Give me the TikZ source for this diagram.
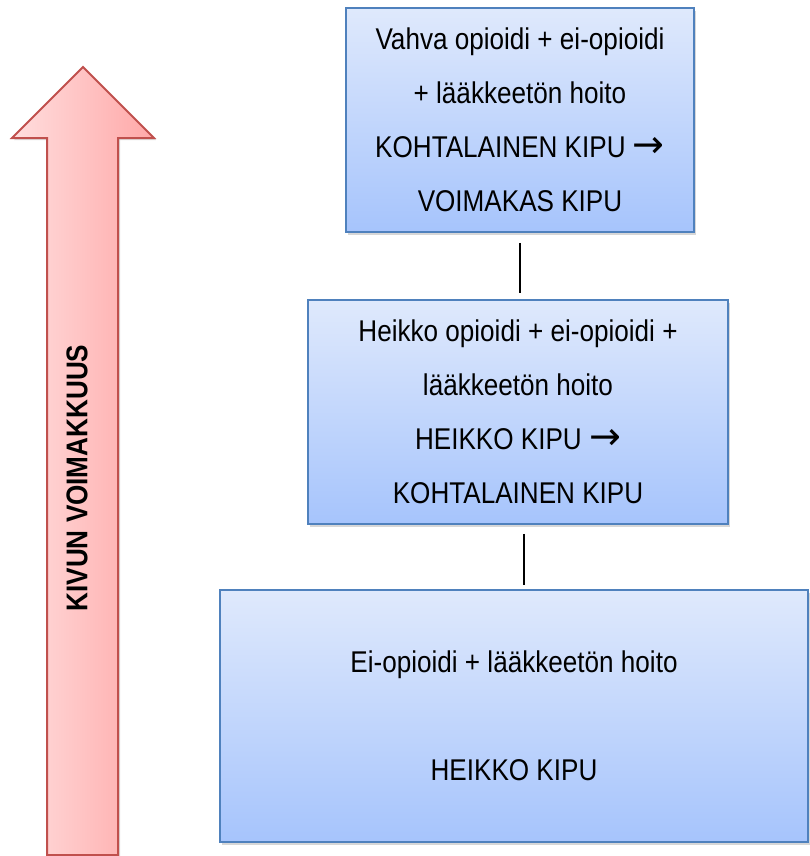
\documentclass[tikz,border=0pt]{standalone}
\usepackage{fontspec}
\setmainfont[FakeStretch=0.87]{Liberation Sans}
\newfontfamily\arrowfont{DejaVu Sans}
\usetikzlibrary{shadows}
\definecolor{boxtop}{RGB}{223,233,252}
\definecolor{boxbottom}{RGB}{166,196,252}
\definecolor{boxline}{RGB}{79,129,189}
\definecolor{painlight}{RGB}{255,222,222}
\definecolor{paindark}{RGB}{255,168,168}
\definecolor{painline}{RGB}{192,80,77}
\newcommand{\nuoli}{{\arrowfont\fontsize{38}{54}\selectfont →}}

\begin{document}
\begin{tikzpicture}[x=1pt,y=-1pt]
		\tikzset{
			tier/.style = {draw=boxline, line width=1.5pt, top color=boxtop, bottom color=boxbottom,
				align=center, font=\fontsize{30}{54}\selectfont,
				drop shadow={fill=black!45, opacity=0.35, shadow xshift=2pt, shadow yshift=-3pt}},
			link/.style = {line width=2pt}
		}
		\useasboundingbox (0,0) rectangle (809,856);
		\draw[painline, line width=2pt, left color=painlight, right color=paindark,
			drop shadow={fill=black!45, opacity=0.3, shadow xshift=2pt, shadow yshift=-2pt}]
			(83,67) -- (12,138) -- (47,138) -- (47,855) -- (118,855) -- (118,138) -- (154,138) -- cycle;
		\node[rotate=90, font=\fontsize{30}{34}\selectfont\bfseries] (scale) at (77,478) {KIVUN VOIMAKKUUS};
		\node[tier, minimum width=348pt, minimum height=224pt] (strong) at (520,120)
			{Vahva opioidi + ei-opioidi\\+ lääkkeetön hoito\\KOHTALAINEN KIPU \nuoli\\VOIMAKAS KIPU};
		\node[tier, minimum width=420pt, minimum height=224pt] (weak) at (518,412)
			{Heikko opioidi + ei-opioidi +\\lääkkeetön hoito\\HEIKKO KIPU \nuoli\\KOHTALAINEN KIPU};
		\node[tier, minimum width=588pt, minimum height=252pt] (mild) at (514,716)
			{Ei-opioidi + lääkkeetön hoito\\[54pt]HEIKKO KIPU};
		\draw[link, shorten <=10pt, shorten >=6pt] (strong.south) -- (strong.south |- weak.north);
		\draw[link, shorten <=9pt, shorten >=4pt] ([xshift=6pt]weak.south) -- ([xshift=6pt]weak.south |- mild.north);
	\end{tikzpicture}
\end{document}
